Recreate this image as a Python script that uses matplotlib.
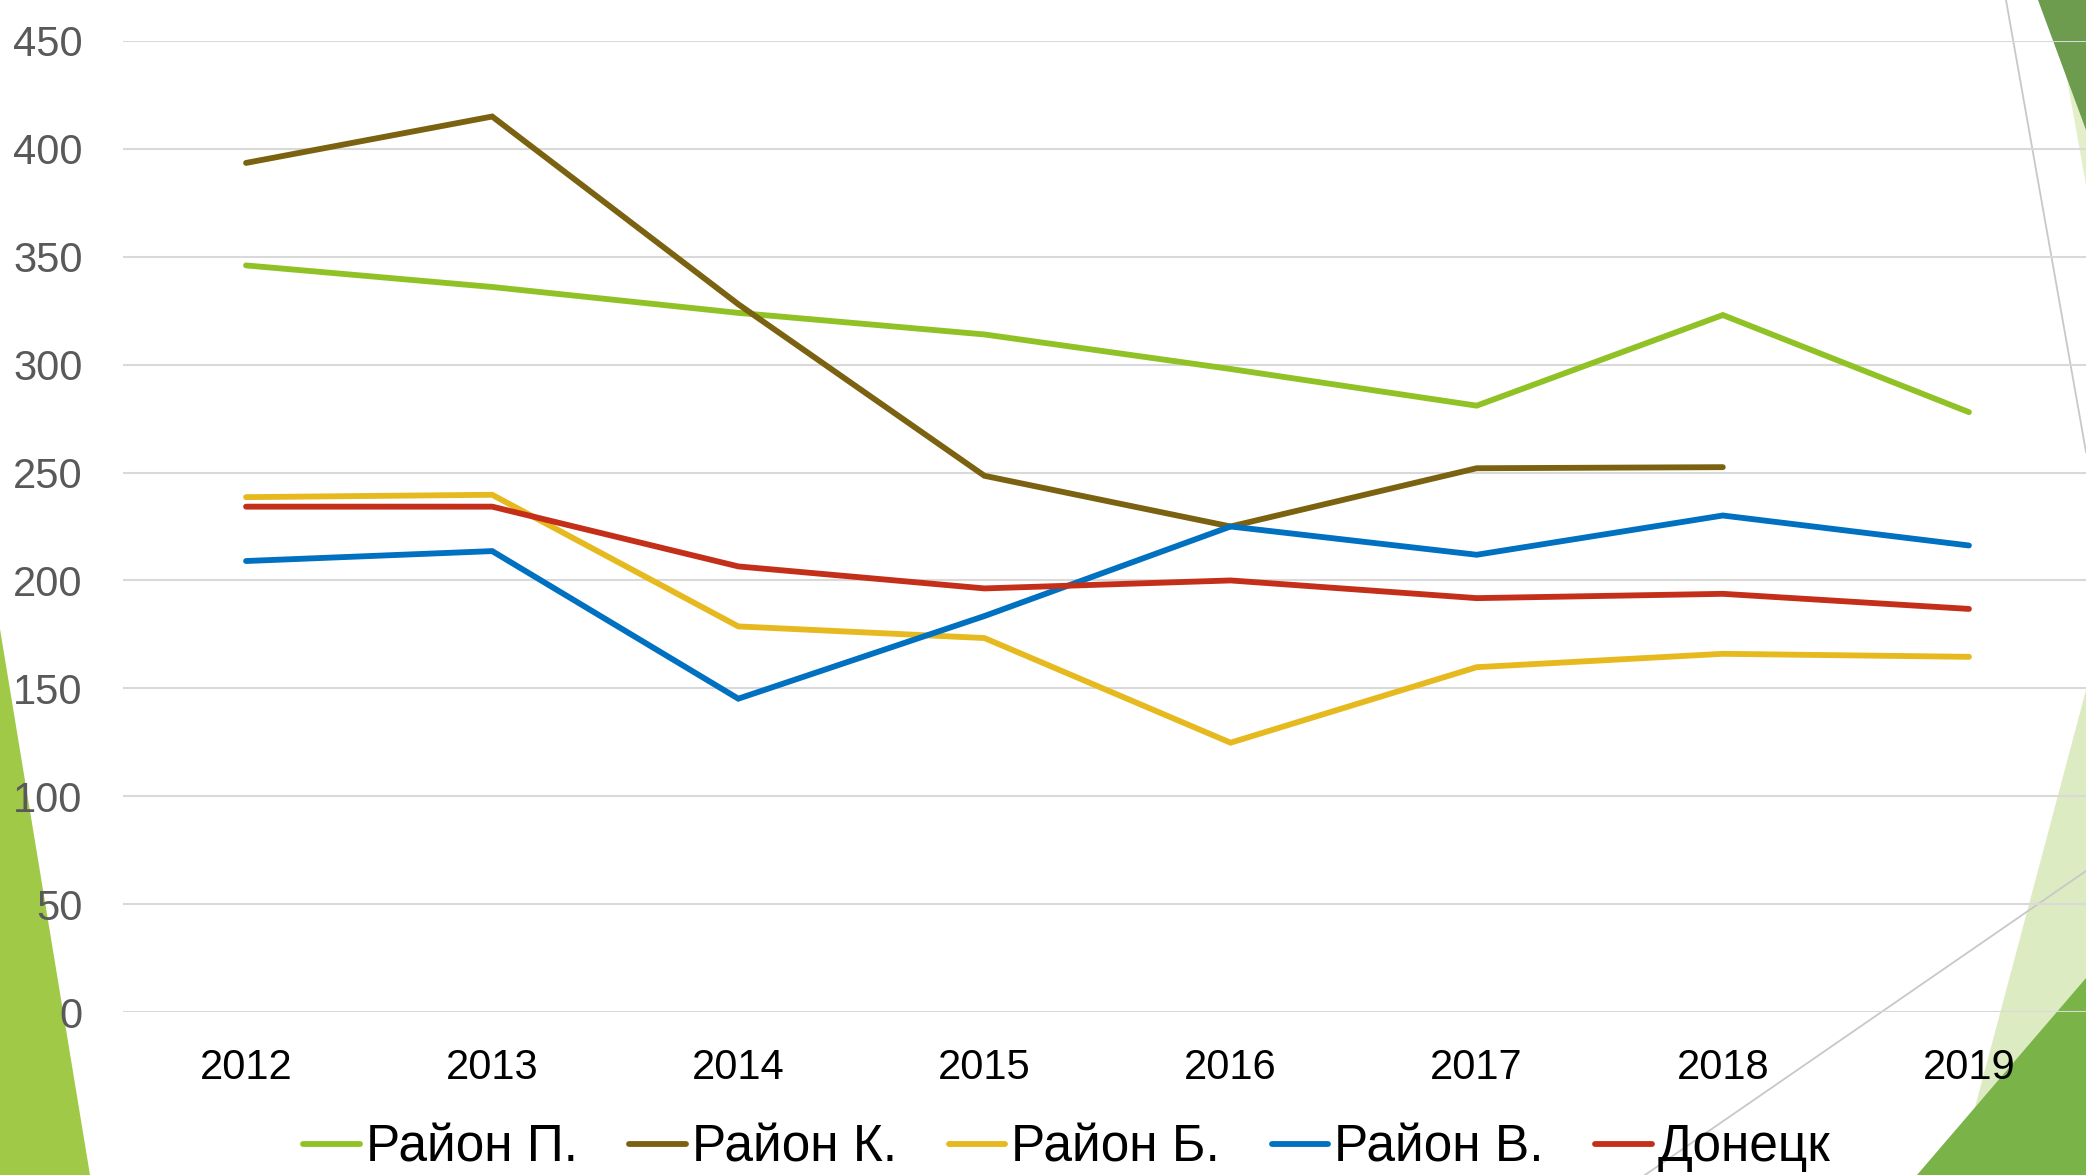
"""Line chart: five districts, 2012-2019, on a green slide background."""
import numpy as np
import matplotlib.pyplot as plt
from matplotlib.patches import Polygon
from matplotlib.lines import Line2D

plt.rcParams['font.family'] = ['Liberation Sans', 'DejaVu Sans']

years = ['2012', '2013', '2014', '2015', '2016', '2017', '2018', '2019']
series_names = ['Район П.', 'Район К.', 'Район Б.', 'Район В.', 'Донецк']
rayon_p = [346, 336, 324, 314, 298, 281, 323, 278]
rayon_k = [393.5, 415, 328, 248.5, 225, 252, 252.5, np.nan]
rayon_b = [238.6, 239.7, 178.7, 173.3, 124.8, 159.8, 166, 164.6]
rayon_v = [209, 213.6, 145.2, 183.5, 225, 211.9, 230.1, 216.2]
donetsk = [234.2, 234.2, 206.5, 196.3, 200, 191.8, 193.8, 186.8]
colors = ['#90C226', '#7A6210', '#E6B91E', '#0070C0', '#C42F1A']

W, H = 2086, 1175
fig = plt.figure(figsize=(W / 100, H / 100), dpi=100)


def px(x, y):
    # pixel position (from top-left) -> figure fraction
    return (x / W, 1 - y / H)


def shape(points, color, z=-5):
    fig.add_artist(Polygon([px(*p) for p in points], closed=True,
                           transform=fig.transFigure, facecolor=color,
                           edgecolor='none', zorder=z))


def thin(p0, p1):
    a, b = px(*p0), px(*p1)
    fig.add_artist(Line2D([a[0], b[0]], [a[1], b[1]], transform=fig.transFigure,
                          color='#C8C8C8', lw=1.3, zorder=-4))


# slide decoration
shape([(0, 629), (90, 1175), (0, 1175)], '#A0C948')
shape([(2060, 40), (2086, 40), (2086, 185)], '#E2EFC9')
shape([(2038, 0), (2086, 0), (2086, 130)], '#6E9C4E')
shape([(2086, 690), (2086, 1175), (1957, 1175)], '#DDEBC2')
shape([(2086, 978), (2086, 1175), (1917, 1175)], '#7AB449')
thin((2006, 0), (2086, 452))
thin((2086, 871), (1645, 1175))

ax = fig.add_axes([123 / W, 1 - 1012 / H, (2092 - 123) / W, (1012 - 41) / H])
ax.set_facecolor('none')

x = np.arange(len(years))
for name, vals, c in zip(series_names, [rayon_p, rayon_k, rayon_b, rayon_v, donetsk], colors):
    ax.plot(x, vals, color=c, lw=4.2, label=name, solid_capstyle='round',
            solid_joinstyle='miter', clip_on=False)

ax.set_xlim(-0.5, len(years) - 0.5)
ax.set_ylim(0, 450)
ax.set_yticks(np.arange(0, 451, 50))
ax.set_xticks(x)
ax.set_xticklabels(years)
ax.grid(axis='y', color='#D9D9D9', lw=1.5)
ax.set_axisbelow(True)
for s in ax.spines.values():
    s.set_visible(False)
ax.tick_params(axis='y', length=0, pad=29, labelsize=30, labelcolor='#595959')
ax.tick_params(axis='x', length=0, pad=26, labelsize=30, labelcolor='black')

fig.legend(loc='center', bbox_to_anchor=(0.5115, 1 - 1148 / H), ncol=5,
           frameon=False, fontsize=37, handlelength=1.1, handletextpad=0.12,
           columnspacing=1.0)

fig.savefig('out.png', dpi=100)
